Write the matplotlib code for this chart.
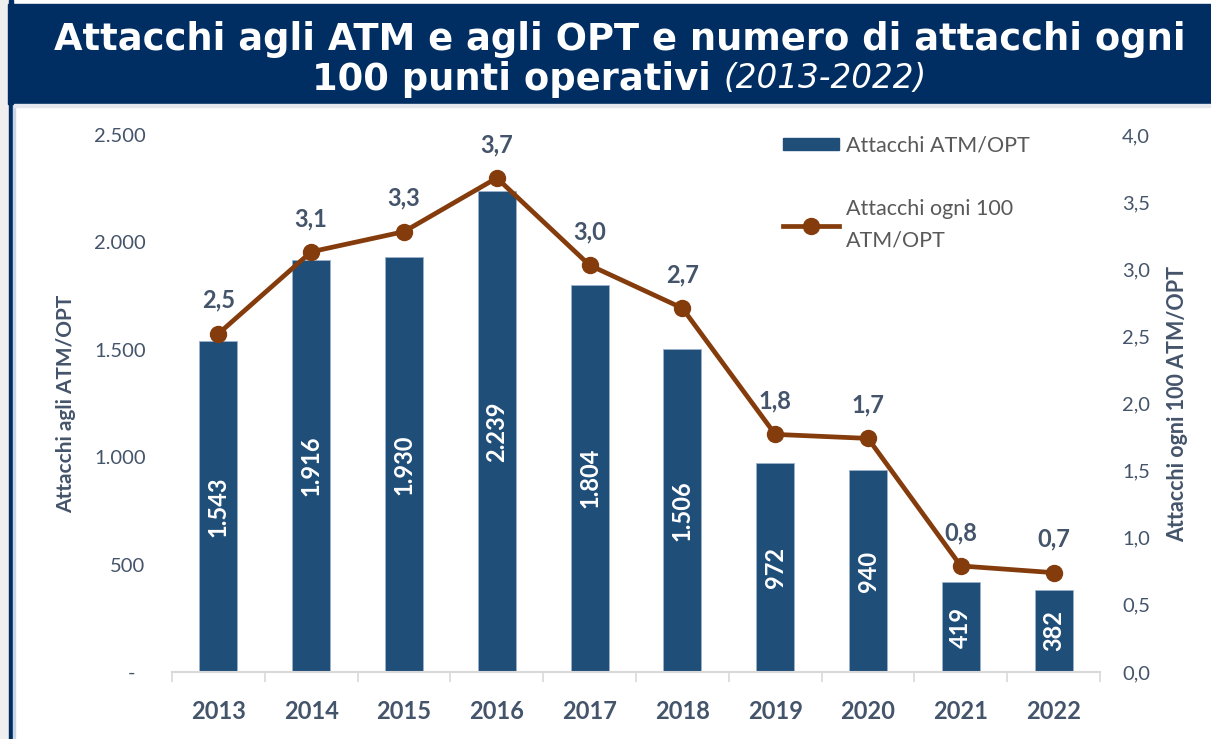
import matplotlib.pyplot as plt
import matplotlib.patches as mpatches
from matplotlib.lines import Line2D
from matplotlib.ticker import FuncFormatter

years = ['2013', '2014', '2015', '2016', '2017', '2018', '2019', '2020', '2021', '2022']
attacchi = [1543, 1916, 1930, 2239, 1804, 1506, 972, 940, 419, 382]
ogni_100 = [2.52, 3.13, 3.28, 3.68, 3.03, 2.71, 1.77, 1.74, 0.79, 0.74]

bar_color = '#1F4E79'
line_color = '#843C0C'
text_color = '#44546A'
header_color = '#002D62'

plt.rcParams['font.family'] = ['Lato', 'DejaVu Sans']

fig = plt.figure(figsize=(12.11, 7.39), dpi=100)
W, H = 1211, 739

# left frame strip + header band
fig.patches.append(mpatches.Rectangle((0, 0), 8 / W, 1, transform=fig.transFigure,
                                      color='#EFEFEF', zorder=0))
fig.patches.append(mpatches.Rectangle((9 / W, 0), 3.5 / W, 1, transform=fig.transFigure,
                                      color=header_color, zorder=1))
fig.patches.append(mpatches.Rectangle((12.5 / W, 0), 2 / W, 1 - 104 / H, transform=fig.transFigure,
                                      color='#C9D6E8', zorder=1))
fig.patches.append(mpatches.Rectangle((8 / W, 1 - 104 / H), 1 - 8 / W, 100 / H,
                                      transform=fig.transFigure, color=header_color, zorder=2))
fig.patches.append(mpatches.Rectangle((14 / W, 1 - 107 / H), 1 - 14 / W, 3 / H,
                                      transform=fig.transFigure, color='#E4E8EE', zorder=2))

fig.text(620 / W, 1 - 39 / H, 'Attacchi agli ATM e agli OPT e numero di attacchi ogni',
         ha='center', va='center', color='white', fontsize=26.6, fontweight='bold',
         family='DejaVu Sans', zorder=3)
t1 = fig.text(0.5, 1 - 79 / H, '100 punti operativi ', ha='left', va='center', color='white',
              fontsize=26.6, fontweight='bold', family='DejaVu Sans', zorder=3)
t2 = fig.text(0.5, 1 - 79 / H, '(2013-2022)', ha='left', va='center', color='white',
              fontsize=23.5, style='italic', family='DejaVu Sans', zorder=3)
r = fig.canvas.get_renderer()
w1 = t1.get_window_extent(r).width
w2 = t2.get_window_extent(r).width
x0 = 619 - (w1 + w2) / 2
t1.set_x(x0 / W)
t2.set_x((x0 + w1) / W)

ax = fig.add_axes([172 / W, 1 - 672 / H, (1100 - 172) / W, (672 - 135) / H])
x = list(range(len(years)))
bars = ax.bar(x, attacchi, width=0.41, color=bar_color, edgecolor='#9DB3CC', linewidth=0.6,
              zorder=2)
ax.set_xlim(-0.5, 9.5)
ax.set_ylim(0, 2500)
ax.set_yticks([0, 500, 1000, 1500, 2000, 2500])
ax.yaxis.set_major_formatter(FuncFormatter(
    lambda v, p: '-  ' if v == 0 else f'{int(v):,}'.replace(',', '.')))
ax.set_xticks(x)
ax.set_xticklabels(years, fontsize=17, fontweight='bold', color=text_color)
ax.set_xticks([i - 0.5 for i in range(len(years) + 1)], minor=True)
ax.tick_params(axis='x', which='major', length=0, pad=20)
ax.tick_params(axis='x', which='minor', length=7, color='#D9D9D9', width=1.2)
ax.tick_params(axis='y', length=0, labelsize=14.5, labelcolor=text_color, pad=19)
for s in ['top', 'left', 'right']:
    ax.spines[s].set_visible(False)
ax.spines['bottom'].set_color('#D9D9D9')
ax.spines['bottom'].set_linewidth(1.5)
ax.set_ylabel('Attacchi agli ATM/OPT', fontsize=15, fontweight='bold', color=text_color,
              labelpad=13)

for b, v in zip(bars, attacchi):
    ax.text(b.get_x() + b.get_width() / 2, v / 2, f'{v:,}'.replace(',', '.'), rotation=90,
            ha='center', va='center', color='white', fontsize=17, fontweight='bold', zorder=4)

ax2 = ax.twinx()
ax2.plot(x, ogni_100, color=line_color, lw=3.4, marker='o', ms=11.5, zorder=3)
ax2.set_ylim(0, 4)
ax2.set_yticks([0, 0.5, 1, 1.5, 2, 2.5, 3, 3.5, 4])
ax2.yaxis.set_major_formatter(FuncFormatter(lambda v, p: f'{v:.1f}'.replace('.', ',')))
ax2.tick_params(axis='y', length=0, labelsize=14.5, labelcolor=text_color, pad=16)
for s in ['top', 'left', 'right', 'bottom']:
    ax2.spines[s].set_visible(False)
ax2.set_ylabel('Attacchi ogni 100 ATM/OPT', fontsize=15.5, fontweight='bold', color=text_color,
               labelpad=12)
for xi, v in zip(x, ogni_100):
    ax2.annotate(f'{v:.1f}'.replace('.', ','), (xi, v), xytext=(0, 24), textcoords='offset points',
                 ha='center', va='center', fontsize=17, fontweight='bold', color=text_color)

handles = [mpatches.Patch(color=bar_color),
           Line2D([], [], color=line_color, lw=3.4, marker='o', ms=11.5)]
leg = ax2.legend(handles, ['Attacchi ATM/OPT', 'Attacchi ogni 100\nATM/OPT'],
                 loc='upper left', bbox_to_anchor=(0.638, 1.035), frameon=False,
                 fontsize=15.5, labelcolor='#595959', handlelength=2.6, handleheight=0.5,
                 labelspacing=2.0, handletextpad=0.3)
for t in leg.get_texts():
    t.set_linespacing(1.75)

fig.savefig('out.png', dpi=100, facecolor='white')
